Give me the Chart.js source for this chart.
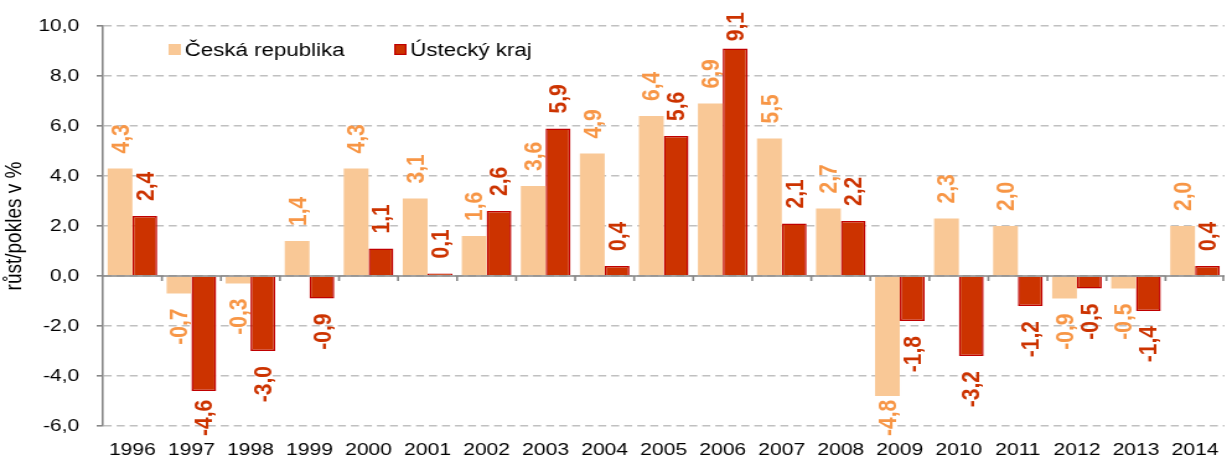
<!DOCTYPE html>
<html>
<head>
<meta charset="utf-8">
<script src="https://cdn.jsdelivr.net/npm/chart.js@4.4.0/dist/chart.umd.min.js"></script>
<style>
html, body { margin: 0; padding: 0; background: #fff; }
#chart { display: block; }
</style>
</head>
<body>
<!-- the source picture is stretched sideways, so the canvas is too -->
<canvas id="chart" width="990" height="462" style="width:1227px;height:462px"></canvas>
<script>
const years = ["1996", "1997", "1998", "1999", "2000", "2001", "2002", "2003", "2004", "2005",
               "2006", "2007", "2008", "2009", "2010", "2011", "2012", "2013", "2014"];
const czValues = [4.3, -0.7, -0.3, 1.4, 4.3, 3.1, 1.6, 3.6, 4.9, 6.4, 6.9, 5.5, 2.7, -4.8, 2.3, 2.0, -0.9, -0.5, 2.0];
const ulValues = [2.4, -4.6, -3.0, -0.9, 1.1, 0.1, 2.6, 5.9, 0.4, 5.6, 9.1, 2.1, 2.2, -1.8, -3.2, -1.2, -0.5, -1.4, 0.4];
const seriesNames = ["Česká republika", "Ústecký kraj"];
const yMin = -6, yMax = 10, yStep = 2;
const yTitle = "růst/pokles v %";

const FONT = "'Liberation Sans', Arial, sans-serif";
const fmt = v => Number(v).toFixed(1).replace(".", ",");

// solid axis at zero with little ticks between the years
const zeroAxis = {
    id: "zeroAxis",
    afterDatasetsDraw(chart) {
        const { ctx, chartArea: a, scales: { x, y } } = chart;
        const y0 = y.getPixelForValue(0);
        ctx.save();
        ctx.strokeStyle = "#868686";
        ctx.lineWidth = 1.6;
        ctx.beginPath();
        ctx.moveTo(a.left, y0);
        ctx.lineTo(a.right, y0);
        for (let i = 1; i <= years.length; i++) {
            const bx = i < years.length
                ? (x.getPixelForValue(i - 1) + x.getPixelForValue(i)) / 2
                : a.right - 1;
            ctx.moveTo(bx, y0);
            ctx.lineTo(bx, y0 + 5);
        }
        ctx.stroke();
        ctx.restore();
    }
};

// rotated value labels at the end of each bar
const valueLabels = {
    id: "valueLabels",
    afterDatasetsDraw(chart) {
        const ctx = chart.ctx;
        const a = chart.chartArea;
        ctx.save();
        ctx.font = "bold 21px " + FONT;
        ctx.textBaseline = "middle";
        chart.data.datasets.forEach((ds, di) => {
            chart.getDatasetMeta(di).data.forEach((bar, i) => {
                const v = ds.data[i];
                const text = fmt(v);
                const len = ctx.measureText(text).width;
                let gap = 15;
                if (v >= 0) gap = Math.max(3, Math.min(gap, bar.y - len - (a.top - 14)));
                else gap = Math.max(3, Math.min(gap, a.bottom + 10 - bar.y - len));
                ctx.save();
                ctx.translate(bar.x + 1, v >= 0 ? bar.y - gap : bar.y + gap);
                ctx.rotate(-Math.PI / 2);
                ctx.textAlign = v >= 0 ? "left" : "right";
                ctx.fillStyle = ds.labelColor;
                ctx.fillText(text, 0, 0);
                ctx.restore();
            });
        });
        ctx.restore();
    }
};

// legend sits inside the plot, top left
const insideLegend = {
    id: "insideLegend",
    afterDraw(chart) {
        const ctx = chart.ctx;
        const a = chart.chartArea;
        const spots = [a.left + 53, a.left + 235];
        const ly = 50;
        ctx.save();
        ctx.font = "18px " + FONT;
        ctx.textBaseline = "middle";
        chart.data.datasets.forEach((ds, i) => {
            const lx = spots[i];
            ctx.fillStyle = ds.backgroundColor;
            ctx.fillRect(lx, ly - 6, 10, 11);
            if (ds.borderWidth) {
                ctx.strokeStyle = ds.borderColor;
                ctx.lineWidth = 1.2;
                ctx.strokeRect(lx + 0.6, ly - 5.4, 8.8, 9.8);
            }
            ctx.fillStyle = "#000";
            ctx.fillText(ds.label, lx + 13, ly + 1);
        });
        ctx.restore();
    }
};

new Chart(document.getElementById("chart"), {
    type: "bar",
    data: {
        labels: years,
        datasets: [
            {
                label: seriesNames[0],
                data: czValues,
                backgroundColor: "#F9C896",
                borderWidth: 0,
                labelColor: "#F79646"
            },
            {
                label: seriesNames[1],
                data: ulValues,
                backgroundColor: "#CC3300",
                borderColor: "#C00000",
                borderWidth: 1.5,
                labelColor: "#CC3300"
            }
        ]
    },
    options: {
        responsive: false,
        animation: false,
        layout: { padding: { top: 26, right: 2, left: 0, bottom: 0 } },
        datasets: { bar: { categoryPercentage: 0.84, barPercentage: 1 } },
        plugins: {
            legend: { display: false },
            tooltip: { enabled: false }
        },
        scales: {
            x: {
                grid: { display: false, drawTicks: false },
                border: { display: false },
                ticks: {
                    color: "#000",
                    padding: 14,
                    autoSkip: false,
                    maxRotation: 0,
                    font: { family: FONT, size: 17 }
                },
                afterFit: s => {
                    s.height = 36;
                    s.paddingLeft = 0;
                    s.paddingRight = 0;
                }
            },
            y: {
                min: yMin,
                max: yMax,
                ticks: {
                    stepSize: yStep,
                    callback: v => fmt(v),
                    color: "#000",
                    padding: 14,
                    font: { family: FONT, size: 17 }
                },
                grid: {
                    color: "#C0C0C0",
                    lineWidth: 1.6,
                    tickColor: "#868686",
                    tickLength: 5
                },
                border: { display: true, color: "#868686", width: 1.6, dash: [6.5, 4] },
                title: {
                    display: true,
                    text: yTitle,
                    color: "#000",
                    font: { family: FONT, size: 19 },
                    padding: { top: 0, bottom: 0 }
                },
                afterFit: s => { s.width = 83; }
            }
        }
    },
    plugins: [zeroAxis, valueLabels, insideLegend]
});
</script>
</body>
</html>
